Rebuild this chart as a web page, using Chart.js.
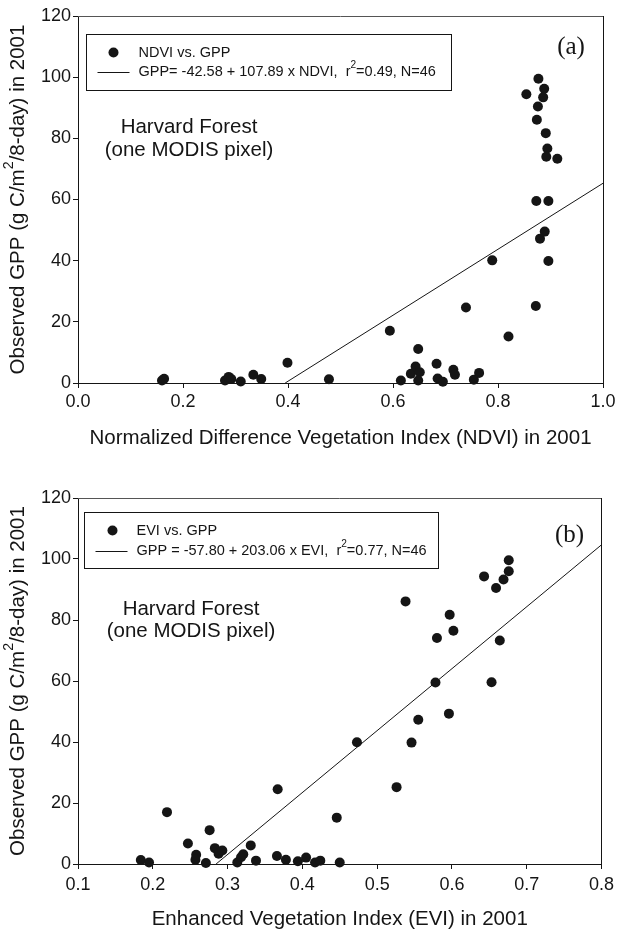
<!DOCTYPE html>
<html>
<head>
<meta charset="utf-8">
<title>Harvard Forest GPP vs NDVI / EVI, 2001</title>
<script src="https://cdn.jsdelivr.net/npm/chart.js@4.4.0/dist/chart.umd.min.js"></script>
<style>
  html, body { margin: 0; padding: 0; background: #fff; }
  #page { position: relative; width: 619px; height: 930px; }
  canvas { position: absolute; left: 0; }
  #chart-ndvi { top: 0; }
  #chart-evi { top: 465px; }
</style>
</head>
<body>
<div id="page">
  <canvas id="chart-ndvi" width="619" height="465"></canvas>
  <canvas id="chart-evi" width="619" height="465"></canvas>
</div>
<script>
// Panel (a): 8-day NDVI against tower GPP
const ndviValues = [
  0.160, 0.164, 0.280, 0.287, 0.292, 0.310, 0.334, 0.349, 0.399, 0.478,
  0.594, 0.615, 0.634, 0.643, 0.648, 0.651, 0.648, 0.683, 0.685, 0.695,
  0.715, 0.718, 0.739, 0.754, 0.764, 0.789, 0.820, 0.854, 0.877, 0.888,
  0.886, 0.876, 0.874, 0.891, 0.894, 0.892, 0.913, 0.873, 0.896, 0.889,
  0.880, 0.896, 0.872
];
const ndviGpp = [
  0.8, 1.4, 0.8, 2.0, 1.3, 0.5, 2.7, 1.3, 6.6, 1.2,
  17.1, 0.8, 3.0, 5.4, 11.1, 3.5, 0.8, 6.3, 1.5, 0.4,
  4.3, 2.7, 24.7, 1.1, 3.3, 40.1, 15.2, 94.4, 99.5, 96.2,
  93.4, 90.4, 86.1, 81.7, 76.7, 74.0, 73.3, 59.5, 59.5, 49.5,
  47.2, 39.9, 25.2
];
const ndviFit = [-42.58, 107.89];   // intercept, slope
const ndviStats = [0.49, 46];       // r2, N

// Panel (b): 8-day EVI against tower GPP
const eviValues = [
  0.184, 0.195, 0.219, 0.247, 0.258, 0.257, 0.271, 0.276, 0.283, 0.288,
  0.293, 0.313, 0.318, 0.321, 0.331, 0.338, 0.366, 0.367, 0.378, 0.394,
  0.405, 0.417, 0.424, 0.446, 0.450, 0.473, 0.526, 0.538, 0.546, 0.555,
  0.578, 0.580, 0.596, 0.597, 0.602, 0.643, 0.653, 0.659, 0.664, 0.669,
  0.676, 0.676
];
const eviGpp = [
  1.3, 0.5, 17.0, 6.7, 3.0, 1.4, 0.3, 11.1, 5.2, 3.4,
  4.4, 0.5, 2.2, 3.2, 6.1, 1.1, 2.6, 24.5, 1.4, 0.9,
  2.1, 0.5, 1.1, 15.2, 0.5, 39.9, 25.2, 86.1, 39.8, 47.3,
  59.5, 74.1, 49.3, 81.7, 76.5, 94.3, 59.6, 90.5, 73.3, 93.3,
  96.0, 99.6
];
const eviFit = [-57.80, 203.06];
const eviStats = [0.77, 46];

// Axis ticks
const ndviTicks = [0.0, 0.2, 0.4, 0.6, 0.8, 1.0];
const eviTicks = [0.1, 0.2, 0.3, 0.4, 0.5, 0.6, 0.7, 0.8];
const gppTicks = [0, 20, 40, 60, 80, 100, 120];

const INK = '#151515';
const SANS = '"Liberation Sans", Arial, Helvetica, sans-serif';
const SERIF = '"Liberation Serif", "Times New Roman", serif';
const Y_TITLE = 'Observed GPP (g C/m^2/8-day) in 2001';

// regression line from where it crosses GPP = 0 to the right edge of the axis
function fitLine(fit, xMax) {
  const x0 = -fit[0] / fit[1];
  return [{ x: x0, y: 0 }, { x: xMax, y: fit[0] + fit[1] * xMax }];
}

function fmt(v) {
  return (v < 0 ? '-' : '') + Math.abs(v).toFixed(2);
}

// text with "^2" drawn as a raised, smaller 2
function richWidth(ctx, text, size) {
  let w = 0;
  text.split(/(\^2)/).forEach(part => {
    if (part === '^2') {
      ctx.font = (size * 0.7) + 'px ' + SANS;
      w += ctx.measureText('2').width;
    } else {
      ctx.font = size + 'px ' + SANS;
      w += ctx.measureText(part).width;
    }
  });
  return w;
}

function drawRich(ctx, text, x, y, size) {
  ctx.textAlign = 'left';
  ctx.textBaseline = 'middle';
  text.split(/(\^2)/).forEach(part => {
    if (part === '^2') {
      ctx.font = (size * 0.7) + 'px ' + SANS;
      ctx.fillText('2', x, y - size * 0.42);
      x += ctx.measureText('2').width;
    } else {
      ctx.font = size + 'px ' + SANS;
      ctx.fillText(part, x, y);
      x += ctx.measureText(part).width;
    }
  });
}

// frame: top and right edges (bottom/left come from the axes)
const framePlugin = {
  id: 'frame',
  afterDraw(chart) {
    const { ctx, chartArea: a } = chart;
    ctx.save();
    ctx.lineWidth = 1;
    ctx.strokeStyle = '#555';
    ctx.beginPath();
    ctx.moveTo(a.left, Math.round(a.top) + 0.5);
    ctx.lineTo(a.right, Math.round(a.top) + 0.5);
    ctx.stroke();
    ctx.strokeStyle = INK;
    ctx.beginPath();
    ctx.moveTo(Math.round(a.right) + 0.5, a.top);
    ctx.lineTo(Math.round(a.right) + 0.5, a.bottom);
    ctx.stroke();
    ctx.restore();
  }
};

// rotated GPP axis title, centred on the plot height
const yTitlePlugin = {
  id: 'yTitle',
  afterDraw(chart, args, o) {
    const { ctx, chartArea: a } = chart;
    ctx.save();
    ctx.fillStyle = INK;
    ctx.translate(o.x, (a.top + a.bottom) / 2);
    ctx.rotate(-Math.PI / 2);
    const w = richWidth(ctx, o.text, o.size);
    drawRich(ctx, o.text, -w / 2, 0, o.size);
    ctx.restore();
  }
};

// boxed legend inside the plot, one row per dataset
const boxLegend = {
  id: 'boxLegend',
  afterDraw(chart, args, o) {
    const { ctx, chartArea: a } = chart;
    const x = Math.round(a.left + o.left) + 0.5;
    const y = Math.round(a.top + o.top) + 0.5;
    ctx.save();
    ctx.strokeStyle = INK;
    ctx.lineWidth = 1;
    ctx.strokeRect(x, y, o.width, o.height);
    ctx.fillStyle = INK;
    chart.data.datasets.forEach((ds, i) => {
      const ry = y + o.rows[i];
      if (ds.showLine) {
        ctx.beginPath();
        ctx.moveTo(x + o.lineFrom, Math.round(ry) + 0.5);
        ctx.lineTo(x + o.lineTo, Math.round(ry) + 0.5);
        ctx.stroke();
      } else {
        ctx.beginPath();
        ctx.arc(x + o.marker, ry, ds.pointRadius, 0, Math.PI * 2);
        ctx.fill();
      }
      drawRich(ctx, ds.label, x + o.text, ry, o.size);
    });
    ctx.restore();
  }
};

// site caption and panel letter
const panelText = {
  id: 'panelText',
  afterDraw(chart, args, o) {
    const { ctx, chartArea: a } = chart;
    ctx.save();
    ctx.fillStyle = INK;
    ctx.textAlign = 'center';
    ctx.textBaseline = 'middle';
    ctx.font = '20.5px ' + SANS;
    o.caption.forEach((line, i) => {
      ctx.fillText(line, a.left + o.captionX, a.top + o.captionY[i]);
    });
    ctx.font = '25px ' + SERIF;
    ctx.fillText(o.letter, a.right - o.letterX, a.top + o.letterY);
    ctx.restore();
  }
};

function makeChart(id, cfg) {
  const tickFont = { family: SANS, size: 18 };
  const titleFont = { family: SANS, size: 20.5, lineHeight: 1 };
  return new Chart(document.getElementById(id), {
    type: 'scatter',
    data: {
      datasets: [{
        label: cfg.pointLabel,
        data: cfg.xs.map((x, i) => ({ x: x, y: cfg.ys[i] })),
        pointRadius: 5,
        pointBackgroundColor: INK,
        pointBorderWidth: 0,
        showLine: false,
        clip: false
      }, {
        label: cfg.lineLabel,
        data: fitLine(cfg.fit, cfg.xTicks[cfg.xTicks.length - 1]),
        showLine: true,
        borderColor: INK,
        borderWidth: 1,
        pointRadius: 0
      }]
    },
    options: {
      responsive: false,
      animation: false,
      devicePixelRatio: 1,
      layout: { padding: { top: cfg.padTop, right: 16, left: 0, bottom: 0 } },
      plugins: {
        legend: { display: false },
        tooltip: { enabled: false },
        boxLegend: cfg.legend,
        panelText: cfg.text,
        yTitle: { text: Y_TITLE, x: 18, size: 20.5 }
      },
      scales: {
        x: {
          type: 'linear',
          min: cfg.xTicks[0],
          max: cfg.xTicks[cfg.xTicks.length - 1],
          afterBuildTicks: s => { s.ticks = cfg.xTicks.map(v => ({ value: v })); },
          afterFit: s => { s.height = cfg.xHeight; },
          ticks: { callback: v => v.toFixed(1), font: tickFont, color: INK, padding: cfg.xTickPad, maxRotation: 0, autoSkip: false },
          grid: { drawOnChartArea: false, drawTicks: true, tickLength: 5, color: INK },
          border: { color: INK, width: 1 },
          title: { display: true, text: cfg.xTitle, font: titleFont, color: INK, padding: { top: 0, bottom: cfg.xTitlePad } }
        },
        y: {
          type: 'linear',
          min: 0,
          max: 120,
          afterBuildTicks: s => { s.ticks = gppTicks.map(v => ({ value: v })); },
          afterFit: s => { s.width = 78; },
          ticks: { callback: v => String(v), font: tickFont, color: INK, padding: 2 },
          grid: { drawOnChartArea: false, drawTicks: true, tickLength: 5, color: INK },
          border: { color: INK, width: 1 }
        }
      }
    },
    plugins: [framePlugin, boxLegend, panelText, yTitlePlugin]
  });
}

makeChart('chart-ndvi', {
  xs: ndviValues, ys: ndviGpp, fit: ndviFit, xTicks: ndviTicks,
  pointLabel: 'NDVI vs. GPP',
  lineLabel: 'GPP= ' + fmt(ndviFit[0]) + ' + ' + fmt(ndviFit[1]) + ' x NDVI,  r^2=' + ndviStats[0].toFixed(2) + ', N=' + ndviStats[1],
  xTitle: 'Normalized Difference Vegetation Index (NDVI) in 2001',
  padTop: 16, xHeight: 82, xTickPad: 3, xTitlePad: 16.75,
  legend: { left: 8, top: 18, width: 365, height: 56, rows: [18, 37], marker: 27, lineFrom: 11, lineTo: 43, text: 52, size: 14.5 },
  text: { caption: ['Harvard Forest', '(one MODIS pixel)'], captionX: 111, captionY: [111, 134], letter: '(a)', letterX: 32, letterY: 31 }
});

makeChart('chart-evi', {
  xs: eviValues, ys: eviGpp, fit: eviFit, xTicks: eviTicks,
  pointLabel: 'EVI vs. GPP',
  lineLabel: 'GPP = ' + fmt(eviFit[0]) + ' + ' + fmt(eviFit[1]) + ' x EVI,  r^2=' + eviStats[0].toFixed(2) + ', N=' + eviStats[1],
  xTitle: 'Enhanced Vegetation Index (EVI) in 2001',
  padTop: 33, xHeight: 66, xTickPad: 5, xTitlePad: 0.75,
  legend: { left: 6, top: 14, width: 354, height: 56, rows: [18, 38], marker: 28, lineFrom: 11, lineTo: 43, text: 52, size: 14.5 },
  text: { caption: ['Harvard Forest', '(one MODIS pixel)'], captionX: 113, captionY: [111, 133], letter: '(b)', letterX: 32, letterY: 37 }
});
</script>
</body>
</html>
